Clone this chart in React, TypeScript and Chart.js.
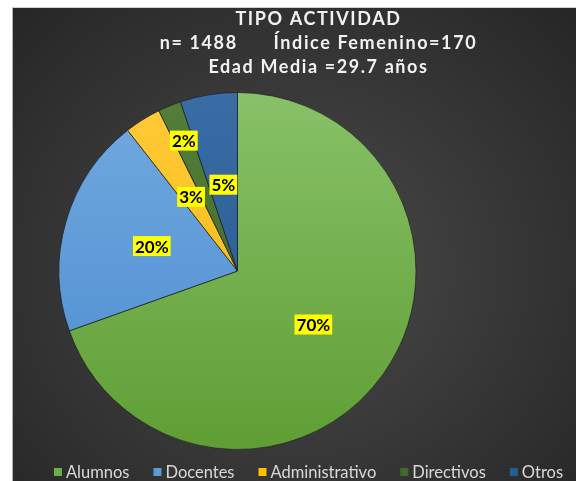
import React, { useEffect, useRef } from "react";
import { Chart, registerables } from "chart.js";

Chart.register(...registerables);

const categories = ["Alumnos", "Docentes", "Administrativo", "Directivos", "Otros"];
const counts = [1035, 296, 49, 31, 77];
const percentLabels = ["70%", "20%", "3%", "2%", "5%"];
const labelRadiusFraction = [0.52, 0.5, 0.49, 0.79, 0.49];
const titleLines = ["TIPO ACTIVIDAD", "n= 1488      Índice Femenino=170", "Edad Media =29.7 años"];
const colorsTop = ["#88c168", "#72aadf", "#ffca3a", "#537f3a", "#3a6ca5"];
const colorsBottom = ["#5f9e34", "#4a8bd0", "#f5b700", "#3c6226", "#22558f"];
const legendColors = ["#70ad47", "#5b9bd5", "#ffc000", "#43682b", "#255e91"];

const FONT = "Lato, 'Open Sans', sans-serif";

const labelPlugin = {
  id: "yellowLabels",
  afterDatasetsDraw(chart: any) {
    const ctx = chart.ctx;
    const meta = chart.getDatasetMeta(0);
    ctx.save();
    ctx.font = `bold 17px ${FONT}`;
    ctx.textAlign = "center";
    ctx.textBaseline = "middle";
    meta.data.forEach((arc: any, i: number) => {
      const p = arc.getProps(["x", "y", "startAngle", "endAngle", "outerRadius"], true);
      const mid = (p.startAngle + p.endAngle) / 2;
      const r = p.outerRadius * labelRadiusFraction[i];
      const x = p.x + Math.cos(mid) * r;
      const y = p.y + Math.sin(mid) * r;
      const text = percentLabels[i];
      const w = ctx.measureText(text).width + 4;
      const h = 20;
      ctx.fillStyle = "#ffff00";
      ctx.fillRect(x - w / 2, y - h / 2, w, h);
      ctx.fillStyle = "#000000";
      ctx.fillText(text, x, y + 1);
    });
    ctx.restore();
  },
};

const titlePlugin = {
  id: "customTitle",
  afterDraw(chart: any) {
    const ctx = chart.ctx;
    ctx.save();
    ctx.font = `bold 18px ${FONT}`;
    (ctx as any).letterSpacing = "1.6px";
    ctx.fillStyle = "#f2f2f2";
    ctx.textAlign = "center";
    ctx.textBaseline = "middle";
    const cx = chart.width / 2 + 24;
    const ys = [11, 35, 59];
    titleLines.forEach((t, i) => ctx.fillText(t, cx, ys[i]));
    ctx.restore();
  },
};

const legendPlugin = {
  id: "customLegend",
  afterDraw(chart: any) {
    const ctx = chart.ctx;
    ctx.save();
    ctx.font = `16.5px ${FONT}`;
    ctx.textBaseline = "middle";
    ctx.textAlign = "left";
    const box = 8;
    const gap = 4;
    const spacing = 24;
    const widths = categories.map((c) => box + gap + ctx.measureText(c).width);
    const total = widths.reduce((a, b) => a + b, 0) + spacing * (categories.length - 1);
    let x = chart.width / 2 + 14 - total / 2;
    const y = chart.height - 9;
    categories.forEach((c, i) => {
      ctx.fillStyle = legendColors[i];
      ctx.fillRect(x, y - box / 2, box, box);
      ctx.fillStyle = "#d9d9d9";
      ctx.fillText(c, x + box + gap, y + 1);
      x += widths[i] + spacing;
    });
    ctx.restore();
  },
};

export default function App() {
  const ref = useRef<HTMLCanvasElement | null>(null);
  useEffect(() => {
    document.body.style.margin = "0";
    const canvas = ref.current!;
    const chart = new Chart(canvas, {
      type: "pie",
      data: {
        labels: categories,
        datasets: [
          {
            data: counts,
            backgroundColor: (c: any) => {
              const i = c.dataIndex;
              const area = c.chart.chartArea;
              if (!area) return legendColors[i];
              const g = c.chart.ctx.createLinearGradient(0, area.top, 0, area.bottom);
              g.addColorStop(0, colorsTop[i]);
              g.addColorStop(1, colorsBottom[i]);
              return g;
            },
            borderColor: "rgba(30,30,30,0.7)",
            borderWidth: 1,
          },
        ],
      },
      options: {
        responsive: false,
        animation: false,
        layout: { padding: { left: 0, right: 114, top: 84, bottom: 31 } },
        plugins: {
          title: { display: false },
          legend: { display: false },
          tooltip: { enabled: false },
        },
      },
      plugins: [labelPlugin, titlePlugin, legendPlugin],
    });
    return () => chart.destroy();
  }, []);
  return (
    <div
      style={{
        position: "absolute",
        left: 12,
        top: 7,
        width: 564,
        height: 474,
        background: "radial-gradient(ellipse at 50% 55%, #4b4b4b 0%, #3a3a3a 45%, #262626 100%)",
        borderLeft: "1px solid #b0b0b0",
        borderTop: "1px solid #d0d0d0",
        boxSizing: "border-box",
      }}
    >
      <canvas ref={ref} width={563} height={473} style={{ display: "block" }} />
    </div>
  );
}
